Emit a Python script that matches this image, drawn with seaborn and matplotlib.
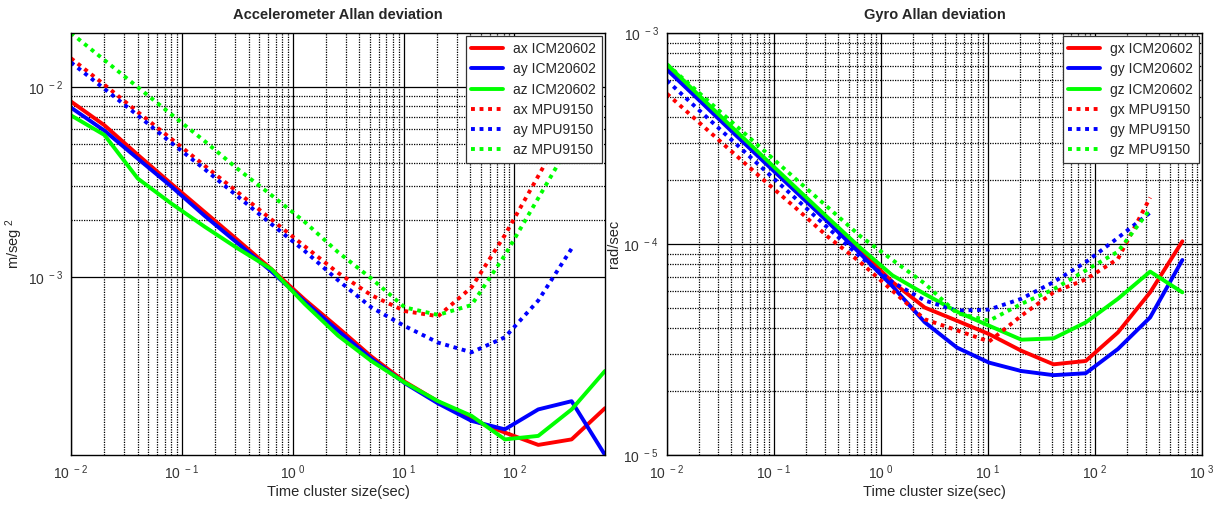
import numpy as np
import pandas as pd
import matplotlib
matplotlib.use("Agg")
import matplotlib.pyplot as plt
import seaborn as sns
from matplotlib.ticker import FixedLocator, LogLocator, FuncFormatter, NullFormatter

# ---------------- data ----------------
tau = [0.01, 0.02, 0.04, 0.08, 0.16, 0.32, 0.64, 1.28, 2.56, 5.12, 10.24,
       20.48, 40.96, 81.92, 163.84, 327.68, 655.36]
tau_mpu = tau[:-1]

# Accelerometer (m/seg^2)
ax_icm = [8.4e-3, 6.3e-3, 4.4e-3, 3.1e-3, 2.2e-3, 1.56e-3, 1.1e-3, 7.6e-4, 5.4e-4, 3.8e-4,
          2.8e-4, 2.2e-4, 1.77e-4, 1.51e-4, 1.30e-4, 1.39e-4, 2.03e-4]
ay_icm = [7.8e-3, 5.9e-3, 4.2e-3, 3.0e-3, 2.1e-3, 1.5e-3, 1.07e-3, 7.4e-4, 5.2e-4, 3.7e-4,
          2.75e-4, 2.15e-4, 1.74e-4, 1.57e-4, 2.0e-4, 2.21e-4, 1.15e-4]
az_icm = [7.1e-3, 5.6e-3, 3.3e-3, 2.44e-3, 1.84e-3, 1.41e-3, 1.1e-3, 7.2e-4, 4.9e-4, 3.6e-4,
          2.77e-4, 2.21e-4, 1.85e-4, 1.39e-4, 1.45e-4, 2.0e-4, 3.19e-4]
ax_mpu = [1.42e-2, 1.03e-2, 7.4e-3, 5.35e-3, 3.86e-3, 2.79e-3, 2.01e-3, 1.45e-3, 1.05e-3,
          8.0e-4, 6.6e-4, 6.2e-4, 8.8e-4, 1.66e-3, 3.4e-3, 7.0e-3]
ay_mpu = [1.35e-2, 9.8e-3, 7.1e-3, 5.1e-3, 3.7e-3, 2.65e-3, 1.9e-3, 1.37e-3, 9.6e-4,
          6.9e-4, 5.5e-4, 4.5e-4, 4.0e-4, 4.8e-4, 7.5e-4, 1.41e-3]
az_mpu = [1.93e-2, 1.39e-2, 1.0e-2, 7.2e-3, 5.2e-3, 3.7e-3, 2.7e-3, 1.95e-3, 1.35e-3,
          9.8e-4, 6.9e-4, 6.3e-4, 7.1e-4, 1.3e-3, 2.6e-3, 5.2e-3]

# Gyro (rad/sec)
gx_icm = [6.9e-4, 4.94e-4, 3.54e-4, 2.54e-4, 1.82e-4, 1.31e-4, 9.35e-5, 6.6e-5, 5.0e-5, 4.33e-5,
          3.74e-5, 3.12e-5, 2.69e-5, 2.79e-5, 3.81e-5, 5.9e-5, 1.03e-4]
gy_icm = [6.7e-4, 4.8e-4, 3.43e-4, 2.46e-4, 1.77e-4, 1.27e-4, 9.0e-5, 6.3e-5, 4.26e-5, 3.23e-5,
          2.74e-5, 2.5e-5, 2.39e-5, 2.44e-5, 3.18e-5, 4.49e-5, 8.4e-5]
gz_icm = [7.1e-4, 5.05e-4, 3.6e-4, 2.58e-4, 1.85e-4, 1.33e-4, 9.6e-5, 7.1e-5, 5.8e-5, 4.78e-5,
          4.1e-5, 3.52e-5, 3.57e-5, 4.25e-5, 5.5e-5, 7.4e-5, 5.9e-5]
gx_mpu = [5.15e-4, 3.76e-4, 2.75e-4, 2.01e-4, 1.48e-4, 1.08e-4, 8.2e-5, 6.0e-5, 4.4e-5, 3.9e-5,
          3.45e-5, 4.57e-5, 5.9e-5, 6.8e-5, 8.5e-5, 1.66e-4]
gy_mpu = [5.95e-4, 4.3e-4, 3.12e-4, 2.26e-4, 1.64e-4, 1.19e-4, 8.7e-5, 6.6e-5, 5.4e-5, 4.83e-5,
          4.89e-5, 5.5e-5, 6.6e-5, 8.2e-5, 1.07e-4, 1.41e-4]
gz_mpu = [7.1e-4, 5.2e-4, 3.8e-4, 2.78e-4, 2.03e-4, 1.49e-4, 1.09e-4, 8.4e-5, 6.5e-5, 4.7e-5,
          4.33e-5, 5.2e-5, 6.1e-5, 7.5e-5, 9.2e-5, 1.46e-4]

acc_labels = ["ax ICM20602", "ay ICM20602", "az ICM20602", "ax MPU9150", "ay MPU9150", "az MPU9150"]
gyr_labels = ["gx ICM20602", "gy ICM20602", "gz ICM20602", "gx MPU9150", "gy MPU9150", "gz MPU9150"]
colors = ["#ff0000", "#0000ff", "#00ff00"]

# ---------------- style ----------------
sns.set_style("white")
plt.rcParams["font.family"] = ["Liberation Sans", "DejaVu Sans"]
plt.rcParams["mathtext.default"] = "regular"

fig = plt.figure(figsize=(12.19, 5.08), dpi=100)
axL = fig.add_axes([71 / 1219, 53 / 508, 534 / 1219, 422 / 508])
axR = fig.add_axes([667 / 1219, 53 / 508, 535 / 1219, 422 / 508])

DOT = (0, (1, 1.2))
LW = 2.8


def draw(ax, series, labels):
    for i, (xs, ys) in enumerate(series):
        ls = "-" if i < 3 else DOT
        sns.lineplot(x=xs, y=ys, ax=ax, color=colors[i % 3], linewidth=LW,
                     linestyle=ls, label=labels[i], estimator=None, sort=False,
                     dash_capstyle="butt")


draw(axL, [(tau, ax_icm), (tau, ay_icm), (tau, az_icm),
           (tau_mpu, ax_mpu), (tau_mpu, ay_mpu), (tau_mpu, az_mpu)], acc_labels)
draw(axR, [(tau, gx_icm), (tau, gy_icm), (tau, gz_icm),
           (tau_mpu, gx_mpu), (tau_mpu, gy_mpu), (tau_mpu, gz_mpu)], gyr_labels)

fmt = FuncFormatter(lambda v, p: r"$10^{\ %d}$" % int(round(np.log10(v))))

for ax in (axL, axR):
    ax.set_xscale("log")
    ax.set_yscale("log")
    ax.set_xlabel("Time cluster size(sec)", fontsize=10.5, labelpad=2)
    for s in ax.spines.values():
        s.set_color("black")
        s.set_linewidth(1.0)
    ax.tick_params(which="both", direction="in", length=0, labelsize=10,
                   colors="#333333", pad=6)
    ax.xaxis.set_major_formatter(fmt)
    ax.yaxis.set_major_formatter(fmt)
    ax.xaxis.set_minor_formatter(NullFormatter())
    ax.yaxis.set_minor_formatter(NullFormatter())
    ax.set_axisbelow(True)

# left axes limits / grid (minor grid only in complete decades)
axL.set_xlim(min(tau), max(tau))
axL.set_ylim(min(ay_icm), max(az_mpu))
axL.xaxis.set_major_locator(FixedLocator([1e-2, 1e-1, 1e0, 1e1, 1e2]))
axL.yaxis.set_major_locator(FixedLocator([1e-3, 1e-2]))
axL.xaxis.set_minor_locator(FixedLocator([k * 10.0 ** d for d in range(-2, 2) for k in range(2, 10)]))
axL.yaxis.set_minor_locator(FixedLocator([k * 1e-3 for k in range(2, 10)]))
axL.set_ylabel("m/seg$^{\ 2}$", fontsize=10.5, labelpad=2)
axL.set_title("Accelerometer Allan deviation", fontsize=10.5, fontweight="bold", pad=10)

axR.set_xlim(1e-2, 1e3)
axR.set_ylim(1e-5, 1e-3)
axR.xaxis.set_major_locator(LogLocator(base=10, numticks=10))
axR.yaxis.set_major_locator(LogLocator(base=10, numticks=10))
axR.xaxis.set_minor_locator(LogLocator(base=10, subs=range(2, 10), numticks=20))
axR.yaxis.set_minor_locator(LogLocator(base=10, subs=range(2, 10), numticks=20))
axR.set_ylabel("rad/sec", fontsize=10.5, labelpad=2)
axR.set_title("Gyro Allan deviation", fontsize=10.5, fontweight="bold", pad=10)

for ax in (axL, axR):
    ax.grid(which="major", color="black", linestyle="-", linewidth=0.9)
    ax.grid(which="minor", color="black", linestyle=(0, (1, 1)), linewidth=0.9)
    leg = ax.legend(loc="upper right", fontsize=10, frameon=True, fancybox=False,
                    framealpha=1, edgecolor="#333333", borderaxespad=0.25,
                    handlelength=2.3, handletextpad=0.7, labelspacing=0.45,
                    borderpad=0.4)
    leg.get_frame().set_linewidth(0.9)

fig.savefig("out.png", dpi=100)
